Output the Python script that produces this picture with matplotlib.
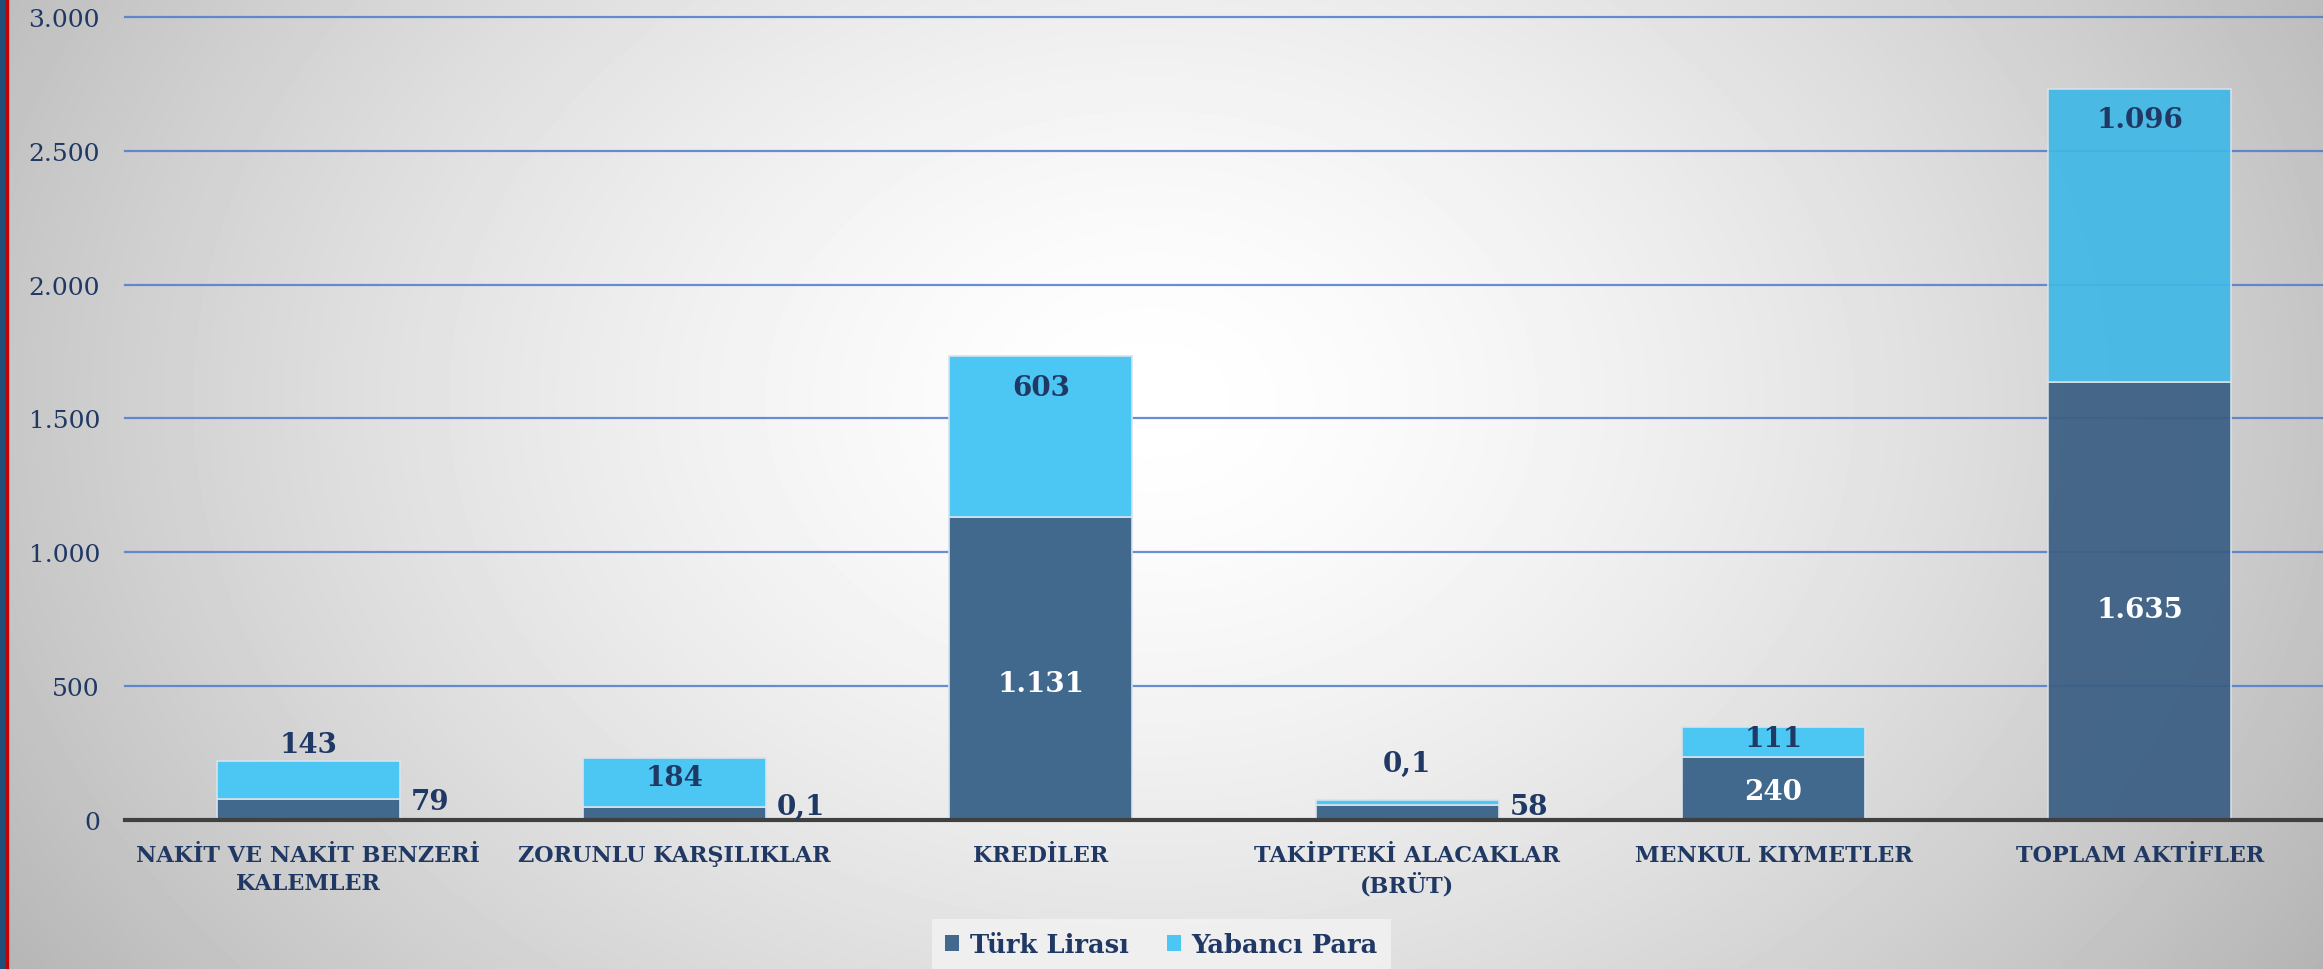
import numpy as np
import matplotlib
matplotlib.use('Agg')
import matplotlib.pyplot as plt
from matplotlib.patches import Patch

# ==========================
# DATA
# ==========================

categories = [
    'NAKİT VE NAKİT BENZERİ\nKALEMLER',
    'ZORUNLU KARŞILIKLAR',
    'KREDİLER',
    'TAKİPTEKİ ALACAKLAR\n(BRÜT)',
    'MENKUL KIYMETLER',
    'TOPLAM AKTİFLER',
]

tl_values = [79, 48, 1131, 55, 236, 1635]
yp_values = [143, 184, 603, 20, 111, 1096]

tl_labels = ['79', '0,1', '1.131', '58', '240', '1.635']
yp_labels = ['143', '184', '603', '0,1', '111', '1.096']

series_names = ['Türk Lirası', 'Yabancı Para']

y_ticks = [0, 500, 1000, 1500, 2000, 2500, 3000]
y_ticklabels = ['0', '500', '1.000', '1.500', '2.000', '2.500', '3.000']

# ==========================
# STYLE
# ==========================

c_tl = '#41688D'
c_yp = '#4CC7F3'
c_tl_total = '#3A5E83'
c_yp_total = '#40B8E6'
c_text = '#1F3864'
c_grid = '#4F7BCB'
font = ['DejaVu Serif']

# label placement (data y, mode) : 'c' centred on bar, 'r' right of bar
tl_pos = [(70, 'r'), (52, 'r'), (509, 'c'), (52, 'r'), (105, 'c'), (786, 'c')]
yp_pos = [(282, 'c'), (160, 'c'), (1616, 'c'), (210, 'c'), (304, 'c'), (2618, 'c')]
tl_colors = [c_text, c_text, 'white', c_text, 'white', 'white']

W, H = 23.23, 9.70
fig = plt.figure(figsize=(W, H), dpi=100)

# ==========================
# BACKGROUND (radial gradient)
# ==========================

bg = fig.add_axes([0, 0, 1, 1])
yy, xx = np.mgrid[0:970:4, 0:2323:4]
r = np.sqrt(((xx - 1150) / 1200.0) ** 2 + ((yy - 400) / 900.0) ** 2)
val = np.clip(255 - 60 * np.clip(r, 0, 1.3) ** 1.5, 0, 255) / 255.0
bg.imshow(val, cmap='gray', vmin=0, vmax=1, extent=[0, 1, 0, 1],
          aspect='auto', interpolation='bilinear')
bg.axis('off')

# left border strips
fig.add_artist(plt.Rectangle((0, 0), 6 / 2323, 1, transform=fig.transFigure,
                             color='#1F4E79', zorder=5))
fig.add_artist(plt.Rectangle((6 / 2323, 0), 2 / 2323, 1, transform=fig.transFigure,
                             color='#C00000', zorder=5))

# ==========================
# BAR CHART
# ==========================

ax = fig.add_axes([125 / 2323, 149 / 970, 1 - 125 / 2323, 0.828])
ax.patch.set_alpha(0)

x = np.arange(len(categories))
width = 0.5

for yv in y_ticks[1:]:
    ax.axhline(yv, color=c_grid, lw=1.6, alpha=0.85, zorder=1, clip_on=False)

b1 = ax.bar(x, tl_values, width, color=c_tl, edgecolor='#D9E2EC',
            linewidth=1.2, zorder=2, label=series_names[0])
b2 = ax.bar(x, yp_values, width, bottom=tl_values, color=c_yp, edgecolor='#D9E2EC',
            linewidth=1.2, zorder=2, label=series_names[1])

# the total bar is slightly darker and lets the gridlines show through
b1[-1].set_facecolor(c_tl_total)
b2[-1].set_facecolor(c_yp_total)
b1[-1].set_alpha(0.93)
b2[-1].set_alpha(0.93)

ax.axhline(0, color='#404040', lw=3, zorder=3, clip_on=False)

ax.set_xlim(-0.5, 5.5)
ax.set_ylim(0, 3000)

for side in ['top', 'right', 'left', 'bottom']:
    ax.spines[side].set_visible(False)

ax.set_yticks(y_ticks)
ax.set_yticklabels(y_ticklabels, family=font, fontsize=18, color=c_text)
ax.tick_params(axis='y', length=0, pad=18)

ax.set_xticks(x)
ax.set_xticklabels(categories, family=font, fontsize=16, fontweight='bold',
                   color=c_text, linespacing=1.35, va='top')
ax.tick_params(axis='x', length=0, pad=17)

# data labels
for i in range(len(categories)):
    yv, mode = tl_pos[i]
    if mode == 'r':
        ax.text(x[i] + width / 2 + 0.03, yv, tl_labels[i], ha='left', va='center',
                family=font, fontsize=20, fontweight='bold', color=tl_colors[i], zorder=4)
    else:
        ax.text(x[i], yv, tl_labels[i], ha='center', va='center',
                family=font, fontsize=20, fontweight='bold', color=tl_colors[i], zorder=4)
    yv, mode = yp_pos[i]
    ax.text(x[i], yv, yp_labels[i], ha='center', va='center',
            family=font, fontsize=20, fontweight='bold', color=c_text, zorder=4)

# ==========================
# LEGEND
# ==========================

handles = [Patch(facecolor=c_tl), Patch(facecolor=c_yp)]
leg = fig.legend(handles, series_names, loc='center', bbox_to_anchor=(0.5, 0.025),
                 ncol=2, frameon=True, fancybox=False, handlelength=0.55, handleheight=0.55,
                 handletextpad=0.4, columnspacing=1.5, borderpad=0.5,
                 prop={'family': font, 'size': 18.5, 'weight': 'bold'})
leg.get_frame().set_facecolor('#F3F3F3')
leg.get_frame().set_edgecolor('none')
for t in leg.get_texts():
    t.set_color(c_text)

plt.savefig('out.png', dpi=100)
